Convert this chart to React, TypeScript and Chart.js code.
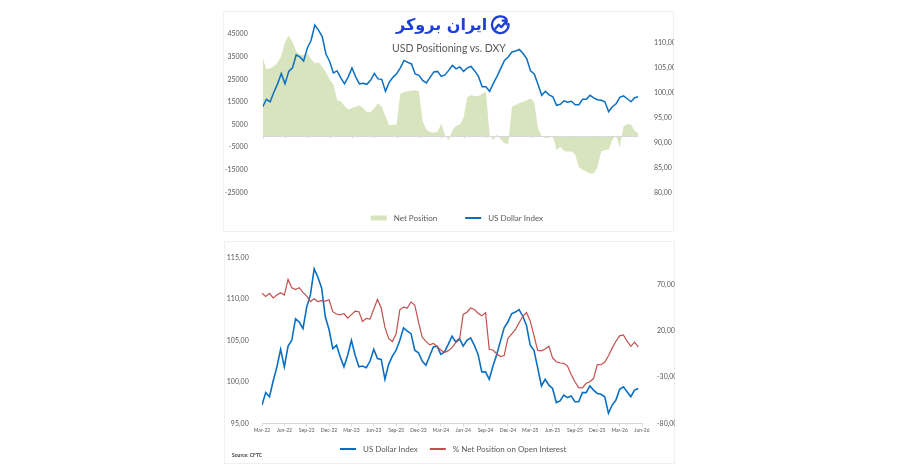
import { useEffect, useRef } from 'react';
import { Chart, registerables } from 'chart.js';

Chart.register(...registerables);

// ---------- data ----------
// one point every half month, starting Mar-22
const quarterLabels = [
  'Mar-22', 'Jun-22', 'Sep-22', 'Dec-22', 'Mar-23', 'Jun-23', 'Sep-23', 'Dec-23',
  'Mar-24', 'Jun-24', 'Sep-24', 'Dec-24', 'Mar-25', 'Jun-25', 'Sep-25', 'Dec-25',
  'Mar-26', 'Jun-26',
];

const usDollarIndex = [
  97.2, 98.7, 98.2, 100.1, 101.8, 103.9, 101.8, 104.3, 105.0, 107.6,
  107.2, 106.4, 109.0, 110.5, 113.6, 112.6, 111.3, 107.8, 106.3, 104.0,
  104.4, 103.0, 101.8, 103.2, 105.0, 103.2, 101.8, 101.9, 101.7, 102.5,
  103.9, 102.8, 102.7, 100.3, 102.1, 103.1, 103.8, 105.0, 106.5, 106.1,
  105.8, 103.8, 103.5, 102.5, 102.0, 103.1, 104.2, 104.3, 103.3, 103.6,
  104.5, 105.5, 104.8, 105.2, 104.3, 105.0, 105.3, 104.4, 103.3, 101.2,
  101.2, 100.3, 101.9, 103.3, 104.9, 106.5, 107.2, 108.2, 108.4, 108.7,
  107.9, 106.8, 104.4, 103.8, 101.7, 99.5, 100.3, 99.6, 99.2, 97.5,
  97.7, 98.4, 98.1, 98.3, 97.6, 97.6, 98.7, 98.7, 99.5, 99.0,
  98.6, 98.5, 98.2, 96.2, 97.2, 97.8, 99.1, 99.4, 98.8, 98.2,
  99.0, 99.2,
];

const netPosition = [
  34500, 29500, 29900, 30800, 32400, 35500, 41500, 44300, 41500, 37500,
  35900, 35800, 36500, 34000, 32000, 32600, 30600, 28200, 24900, 22800,
  15800, 15300, 13200, 11700, 12300, 13000, 13400, 12300, 10500, 10500,
  12400, 14300, 12900, 8700, 4700, 4900, 5000, 18800, 19400, 19800,
  20000, 20200, 19800, 6500, 2700, 1700, 1400, 1700, 5500, 300,
  -1900, 2500, 4500, 5000, 8000, 17200, 18000, 17600, 17500, 18700,
  19500, 500, -1900, 600, -1500, -3200, -3600, 12900, 13700, 14600,
  15100, 15800, 16500, 15000, 3500, -300, -900, -800, 200, -6200,
  -4900, -6600, -7000, -6800, -8200, -13800, -15000, -15800, -16600, -16500,
  -14000, -6800, -6200, -6000, -1700, 300, -5000, 4200, 5300, 5000,
  2300, 1100,
];

const netPctOpenInterest = [
  61, 57.5, 61, 56, 59, 61.5, 59, 76, 67, 65,
  67, 62, 58, 52, 55, 52, 53, 52.5, 54, 41,
  38.5, 37.5, 39, 34, 37.8, 41.5, 41, 30.5, 33.8, 33,
  44, 54.3, 45, 24, 12, 8.7, 17, 43, 46, 45,
  51.5, 48.3, 30, 13.5, 8.8, 5, 6.5, 3.2, -0.5, -3.2,
  -1.2, 2, 7.5, 10.3, 38, 40.5, 45, 43.5, 39.3, 36.5,
  40, 0, -0.5, -4.5, -7.6, -6.5, 12, 16.8, 21.5, 29,
  36, 40, 31, 15, -1, -1.4, 0.6, 3.6, -9, -13.2,
  -14.6, -15, -18, -27, -35, -41.3, -41.5, -36.6, -34.9, -31.5,
  -16.4, -16.5, -13.5, -6.7, 1.5, 9, 14.8, 15.8, 9, 3.5,
  8, 3,
];

const netTicks = [-25000, -15000, -5000, 5000, 15000, 25000, 35000, 45000];
const dxyTicksTop = [80, 85, 90, 95, 100, 105, 110];
const dxyTicksBottom = [95, 100, 105, 110, 115];
const pctTicks = [-80, -30, 20, 70];

const MONTHS_PER_POINT = 0.5;
const MONTHS_PER_QUARTER = 3;

// ---------- style ----------
const FONT = "Lato, 'Open Sans', sans-serif";
const TEXT = '#595959';
const BLUE = '#0b6fc1';
const RED = '#c0504d';
const GREEN = '#d7e4bd';
const AXIS = '#d9d9d9';

const toXY = (arr: number[]) => arr.map((v, i) => ({ x: i * MONTHS_PER_POINT, y: v }));
const comma = (v: number) => v.toFixed(2).replace('.', ',');

const setTicks = (values: number[]) => (scale: any) => {
  scale.ticks = values.map((v) => ({ value: v }));
};

const legendPlugin = (startX: number, y: number, itemGap: number) => ({
  id: 'customLegend',
  afterDraw(chart: any) {
    const ctx = chart.ctx as CanvasRenderingContext2D;
    ctx.save();
    ctx.font = `8px ${FONT}`;
    ctx.textBaseline = 'middle';
    let x = startX;
    chart.data.datasets.forEach((ds: any) => {
      if (ds.fill) {
        ctx.fillStyle = ds.backgroundColor;
        ctx.fillRect(x, y - 2.5, 16, 5);
      } else {
        ctx.strokeStyle = ds.borderColor;
        ctx.lineWidth = 2;
        ctx.beginPath();
        ctx.moveTo(x, y);
        ctx.lineTo(x + 16, y);
        ctx.stroke();
      }
      x += 16 + 7;
      ctx.fillStyle = TEXT;
      ctx.fillText(ds.label, x, y);
      x += ctx.measureText(ds.label).width + itemGap;
    });
    ctx.restore();
  },
});

const zeroAxisPlugin = {
  id: 'zeroAxis',
  afterDatasetsDraw(chart: any) {
    const { ctx, chartArea, scales } = chart;
    const y0 = Math.round(scales.y.getPixelForValue(0)) + 0.5;
    ctx.save();
    ctx.strokeStyle = AXIS;
    ctx.lineWidth = 1;
    ctx.beginPath();
    ctx.moveTo(chartArea.left, y0);
    ctx.lineTo(chartArea.right, y0);
    scales.x.ticks.forEach((t: any) => {
      const x = Math.round(scales.x.getPixelForValue(t.value)) + 0.5;
      ctx.moveTo(x, y0);
      ctx.lineTo(x, y0 + 2);
    });
    ctx.stroke();
    ctx.restore();
  },
};

function topConfig(): any {
  const topQuarters = quarterLabels.slice(0, 17);
  return {
    type: 'line',
    data: {
      datasets: [
        {
          label: 'Net Position',
          data: toXY(netPosition),
          yAxisID: 'y',
          fill: 'origin',
          backgroundColor: GREEN,
          borderColor: GREEN,
          borderWidth: 0,
          pointRadius: 0,
          tension: 0,
          order: 1,
        },
        {
          label: 'US Dollar Index',
          data: toXY(usDollarIndex),
          yAxisID: 'y1',
          fill: false,
          borderColor: BLUE,
          backgroundColor: BLUE,
          borderWidth: 1.5,
          pointRadius: 0,
          tension: 0,
          order: 0,
        },
      ],
    },
    options: {
      responsive: false,
      animation: false,
      devicePixelRatio: 1,
      events: [],
      layout: { padding: { left: 0, right: 0, top: 12.9, bottom: 27.6 } },
      plugins: { legend: { display: false }, tooltip: { enabled: false }, title: { display: false } },
      scales: {
        x: {
          type: 'linear',
          min: 0,
          max: (usDollarIndex.length - 1) * MONTHS_PER_POINT,
          afterBuildTicks: setTicks(topQuarters.map((_, k) => k * MONTHS_PER_QUARTER)),
          afterFit: (s: any) => { s.height = 12; },
          grid: { display: false },
          border: { display: false },
          ticks: {
            autoSkip: false,
            maxRotation: 0,
            padding: 4.9,
            color: TEXT,
            font: { family: FONT, size: 5 },
            callback: (_v: number, i: number) => topQuarters[i],
          },
        },
        y: {
          position: 'left',
          min: -25000,
          max: 50000,
          afterBuildTicks: setTicks(netTicks),
          afterFit: (s: any) => { s.width = 38.7; },
          grid: { display: false },
          border: { display: false },
          ticks: { padding: 7, color: TEXT, font: { family: FONT, size: 7 }, callback: (v: number) => String(v) },
        },
        y1: {
          position: 'right',
          min: 80,
          max: 114.04,
          afterBuildTicks: setTicks(dxyTicksTop),
          afterFit: (s: any) => { s.width = 35.6; },
          grid: { display: false },
          border: { display: false },
          ticks: { padding: 7.6, color: TEXT, font: { family: FONT, size: 7 }, callback: (v: number) => comma(v) },
        },
      },
    },
    plugins: [zeroAxisPlugin, legendPlugin(146.7, 208, 28)],
  };
}

function bottomConfig(): any {
  return {
    type: 'line',
    data: {
      datasets: [
        {
          label: 'US Dollar Index',
          data: toXY(usDollarIndex),
          yAxisID: 'y',
          fill: false,
          borderColor: BLUE,
          backgroundColor: BLUE,
          borderWidth: 1.6,
          pointRadius: 0,
          tension: 0,
          order: 1,
        },
        {
          label: '% Net Position on Open Interest',
          data: toXY(netPctOpenInterest),
          yAxisID: 'y1',
          fill: false,
          borderColor: RED,
          backgroundColor: RED,
          borderWidth: 1.2,
          pointRadius: 0,
          tension: 0,
          order: 0,
        },
      ],
    },
    options: {
      responsive: false,
      animation: false,
      devicePixelRatio: 1,
      events: [],
      layout: { padding: { left: 0, right: 0, top: 16.3, bottom: 28.7 } },
      plugins: { legend: { display: false }, tooltip: { enabled: false }, title: { display: false } },
      scales: {
        x: {
          type: 'linear',
          min: 0,
          max: (quarterLabels.length - 1) * MONTHS_PER_QUARTER,
          afterBuildTicks: setTicks(quarterLabels.map((_, k) => k * MONTHS_PER_QUARTER)),
          afterFit: (s: any) => { s.height = 12; },
          grid: { display: true, drawOnChartArea: false, drawTicks: true, tickLength: 3, color: AXIS },
          border: { display: true, color: AXIS },
          ticks: {
            autoSkip: false,
            maxRotation: 0,
            padding: 1.2,
            color: TEXT,
            font: { family: FONT, size: 5 },
            callback: (_v: number, i: number) => quarterLabels[i],
          },
        },
        y: {
          position: 'left',
          min: 95,
          max: 115,
          afterBuildTicks: setTicks(dxyTicksBottom),
          afterFit: (s: any) => { s.width = 38; },
          grid: { display: false },
          border: { display: false },
          ticks: { padding: 5.3, color: TEXT, font: { family: FONT, size: 7 }, callback: (v: number) => comma(v) },
        },
        y1: {
          position: 'right',
          min: -80,
          max: 100,
          afterBuildTicks: setTicks(pctTicks),
          afterFit: (s: any) => { s.width = 33; },
          grid: { display: false },
          border: { display: false },
          ticks: { padding: 7, color: TEXT, font: { family: FONT, size: 7 }, callback: (v: number) => comma(v) + '%' },
        },
      },
    },
    plugins: [legendPlugin(116, 208, 12)],
  };
}

function LogoIcon() {
  return (
    <svg width="21" height="21" viewBox="0 0 21 21" style={{ display: 'block' }}>
      <path d="M16.5 4.2 A8.3 8.3 0 1 0 18.6 9.2" fill="none" stroke="#1f3fd6" strokeWidth="2.3" strokeLinecap="round" />
      <polyline points="5.5,13.5 8.6,9.6 11.3,12.3 16.2,6.2" fill="none" stroke="#1f3fd6" strokeWidth="2.3" strokeLinecap="round" strokeLinejoin="round" />
      <polyline points="12.6,5.6 16.6,5.6 16.6,9.4" fill="none" stroke="#1f3fd6" strokeWidth="2.3" strokeLinecap="round" strokeLinejoin="round" />
    </svg>
  );
}

export default function App() {
  const topRef = useRef<HTMLCanvasElement>(null);
  const botRef = useRef<HTMLCanvasElement>(null);

  useEffect(() => {
    const c1 = new Chart(topRef.current as HTMLCanvasElement, topConfig());
    const c2 = new Chart(botRef.current as HTMLCanvasElement, bottomConfig());
    return () => {
      c1.destroy();
      c2.destroy();
    };
  }, []);

  return (
    <div style={{ position: 'fixed', left: 0, top: 0, width: 900, height: 471, background: '#ffffff', overflow: 'hidden', fontFamily: FONT }}>
      <div style={{ position: 'absolute', left: 223, top: 11, width: 451, height: 221, border: '1px solid #f0f0f0', boxSizing: 'border-box' }} />
      <div style={{ position: 'absolute', left: 224, top: 241, width: 451, height: 223, border: '1px solid #f0f0f0', boxSizing: 'border-box' }} />
      <canvas ref={topRef} width={450} height={222} style={{ position: 'absolute', left: 224, top: 10, width: 450, height: 222 }} />
      <canvas ref={botRef} width={451} height={223} style={{ position: 'absolute', left: 224, top: 241, width: 451, height: 223 }} />
      <div style={{ position: 'absolute', left: 396, top: 14, height: 22, display: 'flex', alignItems: 'center', gap: 3 }}>
        <span dir="rtl" style={{ fontFamily: "'DejaVu Sans', sans-serif", fontWeight: 'bold', fontSize: 16, color: '#1f3fd6', lineHeight: '22px' }}>ایران بروکر</span>
        <LogoIcon />
      </div>
      <div style={{ position: 'absolute', left: 349, top: 41, width: 200, textAlign: 'center', fontSize: 10.5, color: TEXT, lineHeight: '14px' }}>
        USD Positioning vs. DXY
      </div>
      <div style={{ position: 'absolute', left: 232, top: 452, fontSize: 5, fontWeight: 'bold', color: '#404040', lineHeight: '6px' }}>
        Source: CFTC
      </div>
    </div>
  );
}
